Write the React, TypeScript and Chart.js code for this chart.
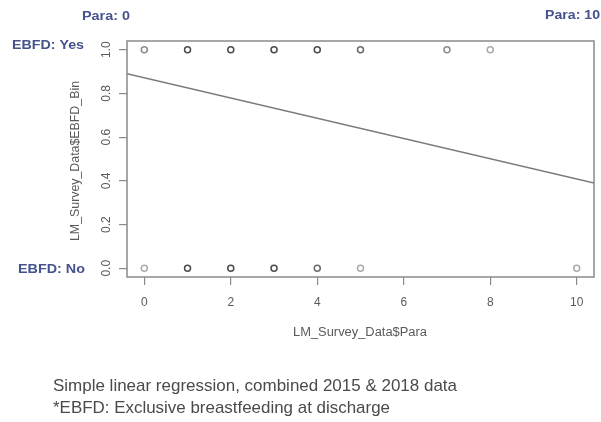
import React, { useEffect, useRef } from "react";
import { Chart, registerables } from "chart.js";

Chart.register(...registerables);

// ---- data ----
const yesPara = [0, 1, 2, 3, 4, 5, 7, 8];
const yesCounts = [2, 20, 18, 12, 8, 5, 2, 1];
const noPara = [0, 1, 2, 3, 4, 5, 10];
const noCounts = [1, 9, 10, 7, 5, 1, 1];
const xTicks = [0, 2, 4, 6, 8, 10];
const yTicks = [0, 0.2, 0.4, 0.6, 0.8, 1.0];
const intercept = 0.872;
const slope = -0.0463;
const xRange = [-0.4, 10.4];
const yRange = [-0.04, 1.04];
const captionLines = [
  "Simple linear regression, combined 2015 & 2018 data",
  "*EBFD: Exclusive breastfeeding at discharge",
];

const FONT = "'Liberation Sans', Arial, Helvetica, sans-serif";
const BLUE = "#45528e";

function shade(c: number): string {
  if (c >= 6) return "#4a4a4a";
  if (c >= 4) return "#6a6a6a";
  if (c >= 2) return "#8c8c8c";
  return "#ababab";
}

function drawScaledText(
  ctx: CanvasRenderingContext2D,
  text: string,
  x: number,
  y: number,
  targetW: number
) {
  const w = ctx.measureText(text).width;
  const s = targetW / w;
  ctx.save();
  ctx.translate(x, y);
  ctx.scale(s, 1);
  ctx.fillText(text, 0, 0);
  ctx.restore();
}

const decorPlugin = {
  id: "decor",
  afterDraw(chart: any) {
    const ctx: CanvasRenderingContext2D = chart.ctx;
    const { left, right, top, bottom } = chart.chartArea;
    const ys = chart.scales.y;
    ctx.save();
    // box
    ctx.strokeStyle = "#8a8a8a";
    ctx.lineWidth = 1.5;
    ctx.strokeRect(left, top, right - left, bottom - top);

    // y tick labels (rotated)
    ctx.fillStyle = "#5a5a5a";
    ctx.font = `12px ${FONT}`;
    ctx.textAlign = "center";
    ctx.textBaseline = "middle";
    ys.ticks.forEach((t: any) => {
      const py = ys.getPixelForValue(t.value);
      ctx.save();
      ctx.translate(107, py);
      ctx.rotate(-Math.PI / 2);
      ctx.fillText(Number(t.value).toFixed(1), 0, 0);
      ctx.restore();
    });

    // y title
    ctx.font = `12px ${FONT}`;
    ctx.save();
    ctx.translate(76, 161);
    ctx.rotate(-Math.PI / 2);
    drawScaledText(ctx, "LM_Survey_Data$EBFD_Bin", 0, 0, 160);
    ctx.restore();

    // x title
    drawScaledText(ctx, "LM_Survey_Data$Para", 360, 333, 134);

    // annotations
    ctx.fillStyle = BLUE;
    ctx.font = `bold 12px ${FONT}`;
    ctx.textAlign = "left";
    drawScaledText(ctx, "Para: 0", 82, 17, 48);
    drawScaledText(ctx, "Para: 10", 545, 16, 55);
    drawScaledText(ctx, "EBFD: Yes", 12, 46, 72);
    drawScaledText(ctx, "EBFD: No", 18, 270, 67);

    // caption
    ctx.fillStyle = "#4a4a4a";
    ctx.font = `17px ${FONT}`;
    drawScaledText(ctx, captionLines[0], 53, 386, 404);
    drawScaledText(ctx, captionLines[1], 53, 408, 337);
    ctx.restore();
  },
};

export default function App() {
  const ref = useRef<HTMLCanvasElement | null>(null);
  useEffect(() => {
    if (!ref.current) return;
    const chart = new Chart(ref.current, {
      type: "scatter",
      data: {
        datasets: [
          {
            label: "Yes",
            data: yesPara.map((x) => ({ x, y: 1 })),
            pointStyle: "circle",
            pointRadius: 3,
            borderWidth: 1.5,
            backgroundColor: "rgba(0,0,0,0)",
            borderColor: yesCounts.map(shade),
          },
          {
            label: "No",
            data: noPara.map((x) => ({ x, y: 0 })),
            pointStyle: "circle",
            pointRadius: 3,
            borderWidth: 1.5,
            backgroundColor: "rgba(0,0,0,0)",
            borderColor: noCounts.map(shade),
          },
          {
            label: "Fit",
            type: "line",
            data: xRange.map((x) => ({ x, y: intercept + slope * x })),
            showLine: true,
            pointRadius: 0,
            borderColor: "#7a7a7a",
            borderWidth: 1.5,
            fill: false,
          } as any,
        ],
      },
      options: {
        responsive: false,
        animation: false,
        devicePixelRatio: 1,
        layout: { padding: { left: 0, top: 41, right: 7, bottom: 0 } },
        plugins: {
          legend: { display: false },
          tooltip: { enabled: false },
        },
        scales: {
          x: {
            type: "linear",
            min: xRange[0],
            max: xRange[1],
            afterBuildTicks: (s: any) => {
              s.ticks = xTicks.map((v) => ({ value: v }));
            },
            afterFit: (s: any) => {
              s.height = 145;
            },
            border: { display: false },
            grid: {
              drawOnChartArea: false,
              drawTicks: true,
              tickLength: 8,
              color: "#8a8a8a",
              lineWidth: 1.2,
            },
            ticks: {
              color: "#5a5a5a",
              font: { family: FONT, size: 12 },
              padding: 10,
              maxRotation: 0,
              callback: (v: any) => String(v),
            },
          },
          y: {
            type: "linear",
            min: yRange[0],
            max: yRange[1],
            afterBuildTicks: (s: any) => {
              s.ticks = yTicks.map((v) => ({ value: v }));
            },
            afterFit: (s: any) => {
              s.width = 127;
            },
            border: { display: false },
            grid: {
              drawOnChartArea: false,
              drawTicks: true,
              tickLength: 8,
              color: "#8a8a8a",
              lineWidth: 1.2,
            },
            ticks: { display: false },
          },
        },
      },
      plugins: [decorPlugin],
    });
    return () => chart.destroy();
  }, []);
  return (
    <div style={{ position: "fixed", left: 0, top: 0, width: 601, height: 422, background: "#fff" }}>
      <canvas ref={ref} width={601} height={422} style={{ width: 601, height: 422 }} />
    </div>
  );
}
